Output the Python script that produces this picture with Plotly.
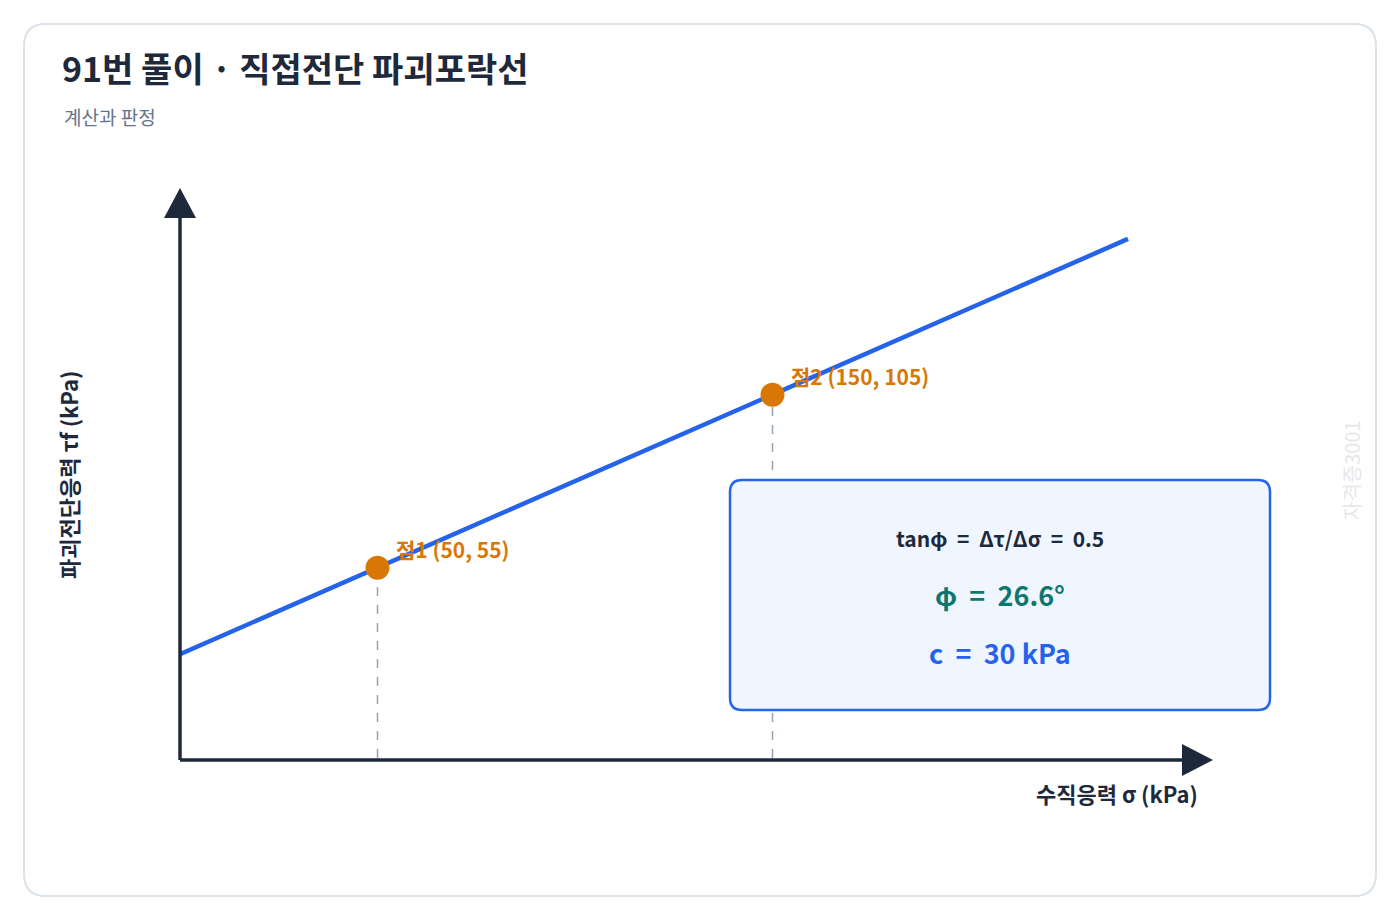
import plotly.graph_objects as go

# data
sigma_pts = [50, 150]
tau_pts = [55, 105]
pt_labels = ["점1 (50, 55)", "점2 (150, 105)"]
line_sigma = [0, 240]
cohesion = 30
slope = 0.5
phi_deg = 26.6

OFF = 8  # page margin of the browser
W, H = 1400 - 2 * OFF, 920 - 2 * OFF
L, T = 180 - OFF, 187 - OFF
R, B = W - (1207 - OFF), H - (758 - OFF)
XMAX, YMAX = 260, 165
pw, ph = W - L - R, H - T - B


def px(x):
    return (x - OFF - L) / pw


def py(y):
    return (H - B - (y - OFF)) / ph


def rrect(x0, y0, x1, y1, r):
    pts = [
        f"M {px(x0 + r)},{py(y0)}", f"L {px(x1 - r)},{py(y0)}", f"Q {px(x1)},{py(y0)} {px(x1)},{py(y0 + r)}",
        f"L {px(x1)},{py(y1 - r)}", f"Q {px(x1)},{py(y1)} {px(x1 - r)},{py(y1)}",
        f"L {px(x0 + r)},{py(y1)}", f"Q {px(x0)},{py(y1)} {px(x0)},{py(y1 - r)}",
        f"L {px(x0)},{py(y0 + r)}", f"Q {px(x0)},{py(y0)} {px(x0 + r)},{py(y0)}", "Z",
    ]
    return " ".join(pts)


def tri(a, b, c):
    return f"M {px(a[0])},{py(a[1])} L {px(b[0])},{py(b[1])} L {px(c[0])},{py(c[1])} Z"


FONT = "Noto Sans CJK KR"
DARK = "#1e293b"

fig = go.Figure()
line_tau = [cohesion + slope * s for s in line_sigma]
fig.add_trace(go.Scatter(x=line_sigma, y=line_tau, mode="lines",
                         line=dict(color="#2563eb", width=4.5), hoverinfo="skip"))
fig.add_trace(go.Scatter(x=sigma_pts, y=tau_pts, mode="markers",
                         marker=dict(color="#d97706", size=24), hoverinfo="skip"))

shapes = [
    dict(type="path", xref="paper", yref="paper", path=rrect(24, 24, 1376, 896, 22),
         line=dict(color="#dbe2ea", width=2), fillcolor="rgba(0,0,0,0)", layer="below"),
]
for s, t in zip(sigma_pts, tau_pts):
    shapes.append(dict(type="line", x0=s, x1=s, y0=0, y1=t, line=dict(color="#94a3b8", width=1.5, dash="dash"),
                       layer="below"))
shapes += [
    dict(type="line", xref="paper", yref="paper", x0=px(180), x1=px(1190), y0=py(760), y1=py(760),
         line=dict(color=DARK, width=3.5)),
    dict(type="line", xref="paper", yref="paper", x0=px(180), x1=px(180), y0=py(760), y1=py(205),
         line=dict(color=DARK, width=3.5)),
    dict(type="path", xref="paper", yref="paper", path=tri((180, 188), (164, 218), (196, 218)),
         fillcolor=DARK, line=dict(width=0)),
    dict(type="path", xref="paper", yref="paper", path=tri((1213, 760), (1182, 744), (1182, 776)),
         fillcolor=DARK, line=dict(width=0)),
    dict(type="path", xref="paper", yref="paper", path=rrect(730, 480, 1270, 710, 12),
         fillcolor="#eff6ff", line=dict(color="#2563eb", width=2.5)),
]

ann = [
    dict(x=px(60), y=py(68), text="<b>91번 풀이 · 직접전단 파괴포락선</b>", xanchor="left",
         font=dict(size=34, color=DARK)),
    dict(x=px(62), y=py(116), text="계산과 판정", xanchor="left", font=dict(size=19, color="#64748b")),
    dict(x=px(68), y=py(475), text="<b>파괴전단응력 τf (kPa)</b>", textangle=-90, font=dict(size=22, color=DARK)),
    dict(x=px(1200), y=py(793), text="<b>수직응력 σ (kPa)</b>", xanchor="right", font=dict(size=22, color=DARK)),
    dict(x=px(1351), y=py(470), text="자격증3001", textangle=-90, font=dict(size=20, color="#e5e7eb")),
    dict(x=px(1000), y=py(538), text="<b>tanφ  =  Δτ/Δσ  =  0.5</b>", font=dict(size=21, color=DARK)),
    dict(x=px(1000), y=py(594), text=f"<b>φ  =  {phi_deg}°</b>", font=dict(size=27, color="#0f766e")),
    dict(x=px(1000), y=py(652), text=f"<b>c  =  {cohesion} kPa</b>", font=dict(size=27, color="#2563eb")),
]
for a in ann:
    a["xref"] = "paper"
    a["yref"] = "paper"
for s, t, lab in zip(sigma_pts, tau_pts, pt_labels):
    ann.append(dict(x=s, y=t, xref="x", yref="y", text=f"<b>{lab}</b>", xanchor="left", yanchor="bottom",
                    xshift=16, yshift=2, font=dict(size=21, color="#d97706")))
for a in ann:
    a["showarrow"] = False
    a.setdefault("yanchor", "middle")
    a.setdefault("xanchor", "center")

fig.update_layout(
    width=W, height=H, margin=dict(l=L, r=R, t=T, b=B),
    paper_bgcolor="white", plot_bgcolor="white", showlegend=False,
    font=dict(family=FONT),
    xaxis=dict(range=[0, XMAX], visible=False),
    yaxis=dict(range=[0, YMAX], visible=False),
    shapes=shapes, annotations=ann,
)
fig.write_html("out.html")
